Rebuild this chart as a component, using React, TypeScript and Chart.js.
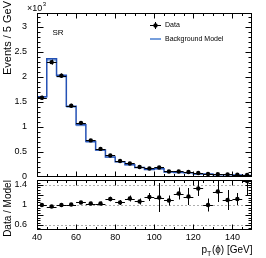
import React, { useEffect, useRef } from "react";
import { Chart, registerables } from "chart.js";

Chart.register(...registerables);

const FONT = "'Liberation Sans', Arial, Helvetica, 'DejaVu Sans', sans-serif";

const BIN_EDGES = [40, 45, 50, 55, 60, 65, 70, 75, 80, 85, 90, 95, 100, 105, 110, 115, 120, 125, 130, 135, 140, 145, 150];
// Values in units of 10^3 events / 5 GeV
const DATA = [1.58, 2.29, 2.02, 1.42, 1.08, 0.73, 0.56, 0.43, 0.32, 0.27, 0.2, 0.17, 0.19, 0.11, 0.11, 0.1, 0.08, 0.06, 0.055, 0.05, 0.045, 0.04];
const DATA_ERR = [0.04, 0.05, 0.045, 0.04, 0.033, 0.027, 0.024, 0.021, 0.018, 0.016, 0.014, 0.013, 0.014, 0.01, 0.01, 0.01, 0.009, 0.008, 0.007, 0.007, 0.007, 0.006];
const MODEL = [1.6, 2.36, 2.03, 1.41, 1.04, 0.71, 0.54, 0.4, 0.305, 0.245, 0.19, 0.15, 0.165, 0.1, 0.09, 0.085, 0.062, 0.06, 0.045, 0.045, 0.04, 0.03];
const MODEL_ERR = [0.04, 0.05, 0.045, 0.035, 0.03, 0.025, 0.02, 0.018, 0.015, 0.013, 0.012, 0.011, 0.011, 0.009, 0.009, 0.008, 0.007, 0.007, 0.006, 0.006, 0.005, 0.005];
const RATIO = [1.0, 0.97, 1.0, 1.01, 1.05, 1.03, 1.03, 1.12, 1.05, 1.13, 1.07, 1.16, 1.15, 1.09, 1.23, 1.17, 1.33, 1.0, 1.27, 1.1, 1.12, 1.48];
const RATIO_ERR = [0.02, 0.02, 0.02, 0.025, 0.03, 0.035, 0.04, 0.045, 0.05, 0.06, 0.06, 0.08, 0.29, 0.1, 0.12, 0.17, 0.15, 0.13, 0.21, 0.2, 0.12, 0.3];

const X_TICKS = [40, 60, 80, 100, 120, 140];
const Y_TICKS_MAIN = [0, 0.5, 1, 1.5, 2, 2.5, 3];
const Y_TICKS_RATIO = [0.6, 0.8, 1, 1.2, 1.4];

const X_MIN = 40, X_MAX = 150;
const Y_MAX_MAIN = 3.27;
const R_MIN = 0.5, R_MAX = 1.5;

const LINE_BLUE = "#2451b5";
const BAND_BLUE = "#9dbbe6";

const centers = BIN_EDGES.slice(0, -1).map((e, i) => (e + BIN_EDGES[i + 1]) / 2);
const stepPts = (vals: number[]) => [
  { x: BIN_EDGES[0], y: 0 },
  ...vals.map((v, i) => ({ x: BIN_EDGES[i], y: v })),
  { x: BIN_EDGES[BIN_EDGES.length - 1], y: vals[vals.length - 1] },
];

function range(a: number, b: number, s: number) {
  const out: number[] = [];
  for (let v = a; v <= b + 1e-9; v += s) out.push(Math.round(v * 1000) / 1000);
  return out;
}

function framePlugin(cfg: { yMaj: number[]; yMin: number[]; xMaj: number[]; xMin: number[] }) {
  return {
    id: "frameTicks",
    afterDraw(chart: any) {
      const { ctx, chartArea: a, scales } = chart;
      const xs = scales.x, ys = scales.y;
      ctx.save();
      ctx.strokeStyle = "#000";
      ctx.lineWidth = 1;
      const L = Math.round(a.left) + 0.5, R = Math.round(a.right) - 0.5;
      const T = Math.round(a.top) + 0.5, B = Math.round(a.bottom) - 0.5;
      ctx.strokeRect(L, T, R - L, B - T);
      ctx.beginPath();
      const yt = (vals: number[], len: number) => vals.forEach((v) => {
        const p = Math.round(ys.getPixelForValue(v)) + 0.5;
        if (p < T || p > B) return;
        ctx.moveTo(L, p); ctx.lineTo(L + len, p);
        ctx.moveTo(R, p); ctx.lineTo(R - len, p);
      });
      const xt = (vals: number[], len: number) => vals.forEach((v) => {
        const p = Math.round(xs.getPixelForValue(v)) + 0.5;
        if (p < L || p > R) return;
        ctx.moveTo(p, B); ctx.lineTo(p, B - len);
        ctx.moveTo(p, T); ctx.lineTo(p, T + len);
      });
      yt(cfg.yMaj, 6); yt(cfg.yMin, 3);
      xt(cfg.xMaj, 5); xt(cfg.xMin, 2.5);
      ctx.stroke();
      ctx.restore();
    },
  };
}

function errPlugin(ys: number[], errs: number[]) {
  return {
    id: "errBars",
    afterDatasetsDraw(chart: any) {
      const { ctx, chartArea: a, scales: { x, y } } = chart;
      ctx.save();
      ctx.beginPath();
      ctx.rect(a.left, a.top, a.right - a.left, a.bottom - a.top);
      ctx.clip();
      ctx.strokeStyle = "#000";
      ctx.lineWidth = 1;
      ctx.beginPath();
      centers.forEach((c, i) => {
        const px = Math.round(x.getPixelForValue(c)) + 0.5;
        const py = Math.round(y.getPixelForValue(ys[i])) + 0.5;
        ctx.moveTo(px, y.getPixelForValue(ys[i] - errs[i]));
        ctx.lineTo(px, y.getPixelForValue(ys[i] + errs[i]));
        ctx.moveTo(x.getPixelForValue(BIN_EDGES[i]), py);
        ctx.lineTo(x.getPixelForValue(BIN_EDGES[i + 1]), py);
      });
      ctx.stroke();
      ctx.restore();
    },
  };
}

const mainText = {
  id: "mainText",
  afterDraw(chart: any) {
    const { ctx } = chart;
    ctx.save();
    ctx.fillStyle = "#000";
    // y title
    ctx.save();
    ctx.translate(8, 1);
    ctx.rotate(-Math.PI / 2);
    ctx.font = `11px ${FONT}`;
    ctx.textAlign = "right";
    ctx.textBaseline = "middle";
    ctx.fillText("Events / 5 GeV", 0, 0);
    ctx.restore();
    // x10^3
    ctx.font = `9px ${FONT}`;
    ctx.textAlign = "left";
    ctx.textBaseline = "alphabetic";
    ctx.fillText("×10", 27, 11);
    const w = ctx.measureText("×10").width;
    ctx.font = `6px ${FONT}`;
    ctx.fillText("3", 27 + w + 0.5, 6);
    // SR
    ctx.font = `8px ${FONT}`;
    ctx.textAlign = "center";
    ctx.textBaseline = "middle";
    ctx.fillText("SR", 58, 33);
    // legend
    ctx.strokeStyle = "#000";
    ctx.lineWidth = 1;
    ctx.beginPath();
    ctx.moveTo(150, 25.5); ctx.lineTo(161, 25.5);
    ctx.moveTo(155.5, 22); ctx.lineTo(155.5, 29);
    ctx.stroke();
    ctx.beginPath();
    ctx.arc(155.5, 25.5, 2.2, 0, Math.PI * 2);
    ctx.fill();
    ctx.strokeStyle = "#4a7fd0";
    ctx.lineWidth = 1.5;
    ctx.beginPath();
    ctx.moveTo(150, 39); ctx.lineTo(161, 39);
    ctx.stroke();
    ctx.font = `7px ${FONT}`;
    ctx.textAlign = "left";
    ctx.fillText("Data", 165, 25.5);
    ctx.fillText("Background Model", 165, 39);
    ctx.restore();
  },
};

const RATIO_TOP = 172;

const ratioText = {
  id: "ratioText",
  afterDraw(chart: any) {
    const { ctx } = chart;
    ctx.save();
    ctx.fillStyle = "#000";
    ctx.save();
    ctx.translate(8, 208.5 - RATIO_TOP);
    ctx.rotate(-Math.PI / 2);
    ctx.font = `10px ${FONT}`;
    ctx.textAlign = "center";
    ctx.textBaseline = "middle";
    ctx.fillText("Data / Model", 0, 0);
    ctx.restore();
    // x title p_T(phi) [GeV], right aligned
    const big = `10px ${FONT}`, small = `7px ${FONT}`;
    ctx.textBaseline = "alphabetic";
    ctx.textAlign = "left";
    ctx.font = big;
    const wp = ctx.measureText("p").width;
    const wr = ctx.measureText("(ϕ) [GeV]").width;
    ctx.font = small;
    const wt = ctx.measureText("T").width;
    const base = 253 - RATIO_TOP;
    const x0 = 252 - (wp + wt + wr);
    ctx.font = big;
    ctx.fillText("p", x0, base);
    ctx.font = small;
    ctx.fillText("T", x0 + wp, base + 2.5);
    ctx.font = big;
    ctx.fillText("(ϕ) [GeV]", x0 + wp + wt + 0.5, base);
    ctx.restore();
  },
};

const noPad = (s: any) => {
  s.paddingTop = 0;
  s.paddingBottom = 0;
  s.paddingLeft = 0;
  s.paddingRight = 0;
};

export default function App() {
  const mainRef = useRef<HTMLCanvasElement>(null);
  const ratioRef = useRef<HTMLCanvasElement>(null);

  useEffect(() => {
    Chart.defaults.font.family = FONT;
    const tickFont = { family: FONT, size: 9 };
    const main = new Chart(mainRef.current!, {
      type: "line",
      data: {
        datasets: [
          {
            label: "band",
            data: stepPts(MODEL.map((m, i) => m - MODEL_ERR[i])),
            stepped: "before",
            borderWidth: 0,
            pointRadius: 0,
            fill: false,
            order: 3,
          } as any,
          {
            label: "Background Model",
            data: stepPts(MODEL),
            stepped: "before",
            borderColor: LINE_BLUE,
            borderWidth: 1.5,
            backgroundColor: BAND_BLUE,
            pointRadius: 0,
            fill: "-1",
            order: 2,
          } as any,
          {
            label: "Data",
            data: centers.map((c, i) => ({ x: c, y: DATA[i] })),
            showLine: false,
            pointRadius: 2.2,
            pointBackgroundColor: "#000",
            pointBorderWidth: 0,
            order: 1,
          } as any,
        ],
      },
      options: {
        animation: false,
        responsive: false,
        events: [],
        layout: { padding: { top: 13, right: 14, bottom: 9, left: 0 } },
        plugins: { legend: { display: false }, tooltip: { enabled: false } },
        scales: {
          x: { type: "linear", min: X_MIN, max: X_MAX, display: false },
          y: {
            type: "linear",
            min: 0,
            max: Y_MAX_MAIN,
            afterFit: (s: any) => { s.width = 37; noPad(s); },
            afterBuildTicks: (s: any) => { s.ticks = Y_TICKS_MAIN.map((v) => ({ value: v })); },
            ticks: { font: tickFont, color: "#000", padding: 10, callback: (v: any) => String(v) },
            grid: { display: false, drawTicks: false },
            border: { display: false },
          },
        },
      },
      plugins: [
        errPlugin(DATA, DATA_ERR),
        framePlugin({ yMaj: Y_TICKS_MAIN, yMin: range(0, 3.2, 0.1), xMaj: X_TICKS, xMin: range(40, 150, 5) }),
        mainText,
      ],
    });

    const ratio = new Chart(ratioRef.current!, {
      type: "line",
      data: {
        datasets: [
          {
            label: "Data / Model",
            data: centers.map((c, i) => ({ x: c, y: RATIO[i] })),
            showLine: false,
            pointRadius: 2.2,
            pointBackgroundColor: "#000",
            pointBorderWidth: 0,
          } as any,
        ],
      },
      options: {
        animation: false,
        responsive: false,
        events: [],
        layout: { padding: { top: 8, right: 14, bottom: 0, left: 0 } },
        plugins: { legend: { display: false }, tooltip: { enabled: false } },
        scales: {
          x: {
            type: "linear",
            min: X_MIN,
            max: X_MAX,
            afterFit: (s: any) => { s.height = 28; noPad(s); },
            afterBuildTicks: (s: any) => { s.ticks = X_TICKS.map((v) => ({ value: v })); },
            ticks: { font: tickFont, color: "#000", padding: 2, maxRotation: 0, callback: (v: any) => String(v) },
            grid: { display: false, drawTicks: false },
            border: { display: false },
          },
          y: {
            type: "linear",
            min: R_MIN,
            max: R_MAX,
            afterFit: (s: any) => { s.width = 37; noPad(s); },
            afterBuildTicks: (s: any) => { s.ticks = Y_TICKS_RATIO.map((v) => ({ value: v })); },
            ticks: { font: tickFont, color: "#000", padding: 10, callback: (v: any) => String(v) },
            grid: { display: true, drawTicks: false, color: "#9a9a9a", lineWidth: 0.8 },
            border: { display: false, dash: [2, 2] },
          },
        },
      },
      plugins: [
        errPlugin(RATIO, RATIO_ERR),
        framePlugin({ yMaj: Y_TICKS_RATIO, yMin: range(0.5, 1.5, 0.05), xMaj: X_TICKS, xMin: range(40, 150, 5) }),
        ratioText,
      ],
    });

    return () => {
      main.destroy();
      ratio.destroy();
    };
  }, []);

  return (
    <div style={{ position: "fixed", left: 0, top: 0, width: 266, height: 258, background: "#fff", overflow: "hidden" }}>
      <canvas ref={mainRef} width={266} height={186} style={{ position: "absolute", left: 0, top: 0, width: 266, height: 186 }} />
      <canvas ref={ratioRef} width={266} height={258 - RATIO_TOP} style={{ position: "absolute", left: 0, top: RATIO_TOP, width: 266, height: 258 - RATIO_TOP }} />
    </div>
  );
}
